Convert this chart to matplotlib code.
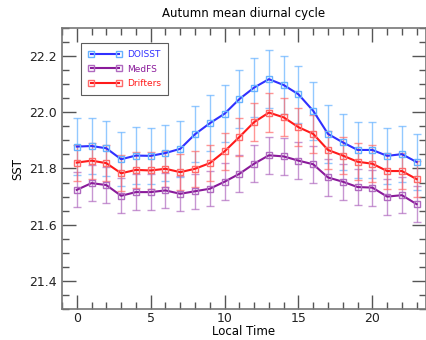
import matplotlib
matplotlib.use("Agg")
import matplotlib.pyplot as plt
from matplotlib.ticker import MultipleLocator
from matplotlib.lines import Line2D

hours = list(range(24))
doisst = [21.878, 21.880, 21.872, 21.833, 21.846, 21.845, 21.855, 21.870, 21.922, 21.961,
          21.995, 22.047, 22.088, 22.118, 22.097, 22.064, 22.005, 21.923, 21.893, 21.866,
          21.866, 21.845, 21.851, 21.823]
doisst_err = [0.100, 0.100, 0.098, 0.096, 0.100, 0.100, 0.100, 0.100, 0.100, 0.100,
              0.102, 0.102, 0.104, 0.104, 0.102, 0.102, 0.104, 0.102, 0.100, 0.100,
              0.100, 0.100, 0.100, 0.098]
medfs = [21.724, 21.748, 21.741, 21.703, 21.716, 21.716, 21.722, 21.710, 21.719, 21.728,
         21.753, 21.781, 21.817, 21.847, 21.843, 21.828, 21.815, 21.768, 21.753, 21.734,
         21.732, 21.700, 21.705, 21.673]
medfs_err = [0.062, 0.064, 0.064, 0.063, 0.063, 0.063, 0.063, 0.063, 0.063, 0.063,
             0.066, 0.066, 0.066, 0.066, 0.066, 0.066, 0.066, 0.066, 0.064, 0.064,
             0.064, 0.064, 0.064, 0.064]
drifters = [21.821, 21.828, 21.819, 21.783, 21.795, 21.793, 21.799, 21.787, 21.799, 21.819,
            21.861, 21.912, 21.965, 21.999, 21.982, 21.947, 21.923, 21.866, 21.846, 21.824,
            21.817, 21.791, 21.791, 21.762]
drifters_err = [0.064, 0.064, 0.064, 0.064, 0.065, 0.065, 0.065, 0.065, 0.065, 0.065,
                0.066, 0.067, 0.068, 0.068, 0.068, 0.068, 0.068, 0.066, 0.065, 0.065,
                0.065, 0.065, 0.065, 0.065]

series = [
    ("DOISST", doisst, doisst_err, "#3030ff", "#66b2ff"),
    ("MedFS", medfs, medfs_err, "#8a1a9a", "#b06ac0"),
    ("Drifters", drifters, drifters_err, "#ff1a1a", "#ff6a6a"),
]

fig = plt.figure(figsize=(4.26, 3.40), dpi=100)
ax = fig.add_axes([62/426, 1-309/340, (426-62)/426, (309-28)/340])

for name, y, e, lc, ec in series:
    ax.errorbar(hours, y, yerr=e, fmt="none", ecolor=ec, elinewidth=1.0,
                capsize=3.2, capthick=1.0, alpha=0.7, zorder=2)
    ax.plot(hours, y, color=lc, lw=1.5, zorder=3)
    ax.plot(hours, y, ls="none", marker="s", ms=4.5, mfc="none", mec=ec,
            mew=1.0, zorder=4)

handles = [Line2D([0], [0], color=lc, lw=1.5, marker="s", ms=4.5, mfc="none",
                  mec=ec, mew=1.0) for _, _, _, lc, ec in series]
leg = ax.legend(handles, [s[0] for s in series], loc="upper left",
                bbox_to_anchor=(0.052, 0.947), borderaxespad=0, numpoints=2,
                fontsize=6.5, frameon=True, fancybox=False, edgecolor="#333333",
                handlelength=3.7, handletextpad=0.6, borderpad=0.8,
                labelspacing=0.6)
leg.get_frame().set_linewidth(0.8)
for txt, (_, _, _, lc, _) in zip(leg.get_texts(), series):
    txt.set_color(lc)

ax.set_xlim(-1, 23.63)
ax.set_ylim(21.3, 22.3)
ax.xaxis.set_major_locator(MultipleLocator(5))
ax.xaxis.set_minor_locator(MultipleLocator(1))
ax.yaxis.set_major_locator(MultipleLocator(0.2))
ax.yaxis.set_minor_locator(MultipleLocator(0.05))
ax.tick_params(which="both", direction="in", top=True, right=True,
               colors="#555555", labelcolor="#222222", labelsize=9)
ax.tick_params(which="major", length=10, width=1.0)
ax.tick_params(which="minor", length=5, width=1.0)
ax.tick_params(axis="x", which="major", pad=2)
for sp in ax.spines.values():
    sp.set_color("#777777")
    sp.set_linewidth(1.2)

ax.set_title("Autumn mean diurnal cycle", fontsize=8.5, pad=7.8)
ax.set_xlabel("Local Time", fontsize=8.5, labelpad=0)
ax.set_ylabel("SST", fontsize=8.5, labelpad=4)

fig.savefig("out.png", dpi=100)
